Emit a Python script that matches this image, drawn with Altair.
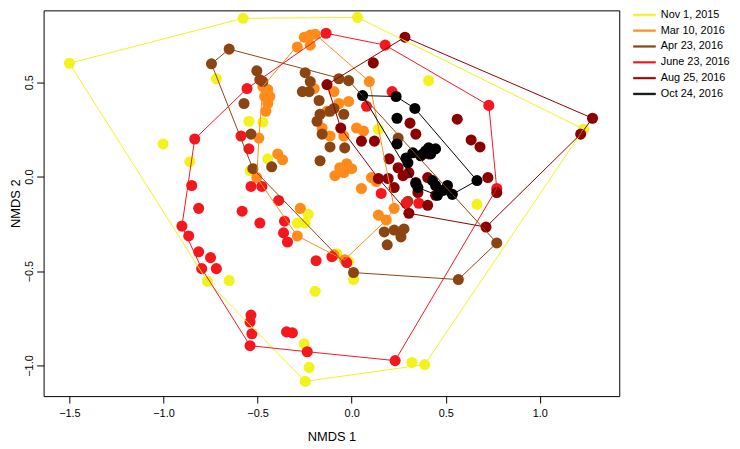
import altair as alt
import pandas as pd

groups = ["Nov 1, 2015", "Mar 10, 2016", "Apr 23, 2016", "June 23, 2016", "Aug 25, 2016", "Oct 24, 2016"]
colors = ["#F2F21E", "#FF8C1A", "#8B4513", "#F5161E", "#8B0000", "#000000"]

nov_x = [-1.50, -0.577, 0.031, 1.233, 0.388, 0.320, -0.247, -0.766, -0.719, -1.002, -0.860, -0.546, -0.472,
         -0.446, -0.540, -0.273, -0.231, -0.289, -0.247, -0.651, -0.194, -0.252, -0.226, -0.079, -0.016, 0.010,
         0.409, 0.142, 0.666]
nov_y = [0.60, 0.838, 0.843, 0.251, -0.995, -0.984, -1.084, -0.555, 0.518, 0.173, 0.079, 0.293, 0.288,
         0.094, 0.031, -0.168, -0.199, -0.246, -0.246, -0.550, -0.607, -0.885, -1.010, -0.408, -0.450, -0.545,
         0.508, 0.251, -0.147]

mar_x = [-0.289, -0.252, -0.220, -0.194, -0.220, 0.094, -0.472, -0.446, -0.462, -0.435, -0.446, -0.456, -0.493,
         -0.393, -0.367, -0.504, -0.199, -0.094, -0.068, -0.016, -0.131, -0.157, -0.115, -0.042, 0.026, 0.063,
         -0.063, -0.026, 0.000, -0.089, -0.042, 0.052, 0.105, 0.131, 0.226, 0.142, 0.184, -0.273, -0.289,
         -0.094, -0.037]
mar_y = [0.686, 0.738, 0.749, 0.754, 0.696, 0.503, 0.476, 0.461, 0.424, 0.424, 0.387, 0.346, 0.204,
         0.120, 0.089, -0.005, 0.466, 0.450, 0.387, 0.398, 0.346, 0.257, 0.215, 0.215, 0.257, 0.241,
         0.047, 0.068, 0.042, 0.005, 0.021, -0.063, -0.005, -0.026, -0.168, -0.204, -0.230, -0.168, -0.314,
         -0.414, -0.440]

apr_x = [-0.651, -0.745, -0.504, -0.488, -0.472, -0.572, -0.535, -0.525, -0.425, -0.247, -0.220, -0.262, -0.226,
         -0.173, -0.068, -0.016, -0.094, -0.115, -0.168, -0.184, -0.042, -0.157, -0.115, -0.037, -0.168, 0.247,
         0.299, 0.173, 0.226, 0.278, 0.262, 0.189, 0.010, 0.567, 0.771]
apr_y = [0.675, 0.597, 0.560, 0.513, 0.503, 0.387, 0.225, 0.042, 0.052, 0.550, 0.503, 0.450, 0.450,
         0.403, 0.518, 0.508, 0.361, 0.346, 0.330, 0.293, 0.330, 0.225, 0.157, 0.152, 0.084, 0.204,
         -0.131, -0.293, -0.283, -0.277, -0.319, -0.361, -0.508, -0.545, -0.351]

jun_x = [-0.136, 0.178, 0.729, 0.771, 0.231, -0.540, -0.902, -0.834, -0.556, -0.588, -0.546, -0.535, -0.477,
         -0.850, -0.813, -0.582, -0.488, -0.388, -0.357, -0.362, -0.341, -0.866, -0.813, -0.750, -0.797, -0.719,
         -0.189, -0.105, -0.026, -0.535, -0.540, -0.530, -0.346, -0.315, -0.236, 0.215, 0.079, 0.157, 0.289, 0.357]
jun_y = [0.759, 0.696, 0.377, -0.063, -0.974, -0.895, -0.262, 0.199, 0.466, 0.215, 0.147, -0.052, -0.052,
         -0.047, -0.168, -0.183, -0.246, -0.126, -0.236, -0.298, -0.346, -0.314, -0.398, -0.429, -0.487, -0.487,
         -0.445, -0.424, -0.455, -0.733, -0.770, -0.832, -0.822, -0.827, -0.927, 0.450, 0.372, -0.089, -0.141, -0.141]

aug_x = [0.283, 0.115, -0.131, -0.058, 0.052, 0.121, 0.310, 0.341, 0.561, 0.635, 0.682, 0.724, 0.771, 1.280,
         1.217, 0.714, 0.304, 0.199, 0.247, 0.273, 0.142, 0.194, 0.304, 0.404, 0.352, 0.404, 0.409, 0.226, 0.446, 0.341]
aug_y = [0.738, 0.602, 0.487, 0.257, 0.188, 0.188, 0.283, 0.225, 0.304, 0.194, 0.157, -0.005, -0.084, 0.309,
         0.225, -0.267, -0.194, 0.094, 0.047, 0.005, -0.010, -0.010, 0.021, -0.152, -0.084, -0.005, 0.120, -0.058,
         -0.099, -0.031]

oct_x = [0.058, 0.236, 0.336, 0.241, 0.241, 0.289, 0.299, 0.325, 0.367, 0.393, 0.409, 0.446, 0.420, 0.378,
         0.341, 0.352, 0.430, 0.446, 0.483, 0.456, 0.509, 0.535, 0.666]
oct_y = [0.429, 0.424, 0.361, 0.309, 0.173, 0.099, 0.073, 0.126, 0.110, 0.136, 0.152, 0.147, 0.120, 0.120,
         -0.037, -0.058, -0.021, -0.047, -0.073, -0.099, -0.047, -0.094, -0.021]

xs_all = [nov_x, mar_x, apr_x, jun_x, aug_x, oct_x]
ys_all = [nov_y, mar_y, apr_y, jun_y, aug_y, oct_y]


def convex_hull(xs, ys):
    pts = sorted(set(zip(xs, ys)))

    def cross(o, a, b):
        return (a[0] - o[0]) * (b[1] - o[1]) - (a[1] - o[1]) * (b[0] - o[0])

    lower = []
    for p in pts:
        while len(lower) >= 2 and cross(lower[-2], lower[-1], p) <= 0:
            lower.pop()
        lower.append(p)
    upper = []
    for p in reversed(pts):
        while len(upper) >= 2 and cross(upper[-2], upper[-1], p) <= 0:
            upper.pop()
        upper.append(p)
    return lower[:-1] + upper[:-1]


pt_rows, hull_rows = [], []
for g, xs, ys in zip(groups, xs_all, ys_all):
    for x, y in zip(xs, ys):
        pt_rows.append({"g": g, "x": x, "y": y})
    h = convex_hull(xs, ys)
    h.append(h[0])
    for i, (x, y) in enumerate(h):
        hull_rows.append({"g": g, "x": x, "y": y, "o": i})

pts_df = pd.DataFrame(pt_rows)
hull_df = pd.DataFrame(hull_rows)

FONT = "Liberation Sans"
xscale = alt.Scale(domain=[-1.637, 1.422], nice=False, zero=False)
yscale = alt.Scale(domain=[-1.162, 0.88], nice=False, zero=False)
cscale = alt.Scale(domain=groups, range=colors)

xenc = alt.X("x:Q", scale=xscale,
             axis=alt.Axis(values=[-1.5, -1.0, -0.5, 0.0, 0.5, 1.0], format=".1f", title="NMDS 1",
                           grid=False, domain=False, tickSize=7, tickColor="black", labelPadding=5,
                           labelFontSize=11, labelFont=FONT, labelColor="black",
                           titleFont=FONT, titleFontSize=13, titleFontWeight="normal", titleColor="black",
                           titlePadding=12))
yenc = alt.Y("y:Q", scale=yscale,
             axis=alt.Axis(values=[-1.0, -0.5, 0.0, 0.5], format=".1f", title="NMDS 2",
                           grid=False, domain=False, tickSize=7, tickColor="black", labelPadding=2,
                           labelAngle=-90, labelAlign="center", labelBaseline="bottom",
                           labelFontSize=11, labelFont=FONT, labelColor="black",
                           titleFont=FONT, titleFontSize=13, titleFontWeight="normal", titleColor="black",
                           titlePadding=1))

legend = alt.Legend(title=None, orient="none", legendX=600, legendY=-3,
                    symbolType="M-1.6,-0.12H1.6V0.12H-1.6Z", symbolSize=196, symbolStrokeWidth=0.5,
                    symbolOpacity=1,
                    labelFont=FONT, labelFontSize=11, labelColor="black",
                    labelOffset=9, rowPadding=3)

points = alt.Chart(pts_df).mark_circle(size=125, opacity=1).encode(
    x=xenc, y=yenc,
    color=alt.Color("g:N", scale=cscale, sort=groups, legend=legend),
)

lines = alt.Chart(hull_df).mark_line(strokeWidth=1).encode(
    x=xenc, y=yenc,
    order="o:Q",
    detail="g:N",
    color=alt.Color("g:N", scale=cscale, sort=groups, legend=legend),
)

chart = alt.layer(points, lines).properties(
    width=582, height=390,
    autosize=alt.AutoSizeParams(type="none"),
    padding={"left": 36, "top": 0, "right": 114, "bottom": 45},
).configure_view(stroke="black", strokeWidth=1)

chart.save("out.html", embed_options={"renderer": "svg", "actions": False})
